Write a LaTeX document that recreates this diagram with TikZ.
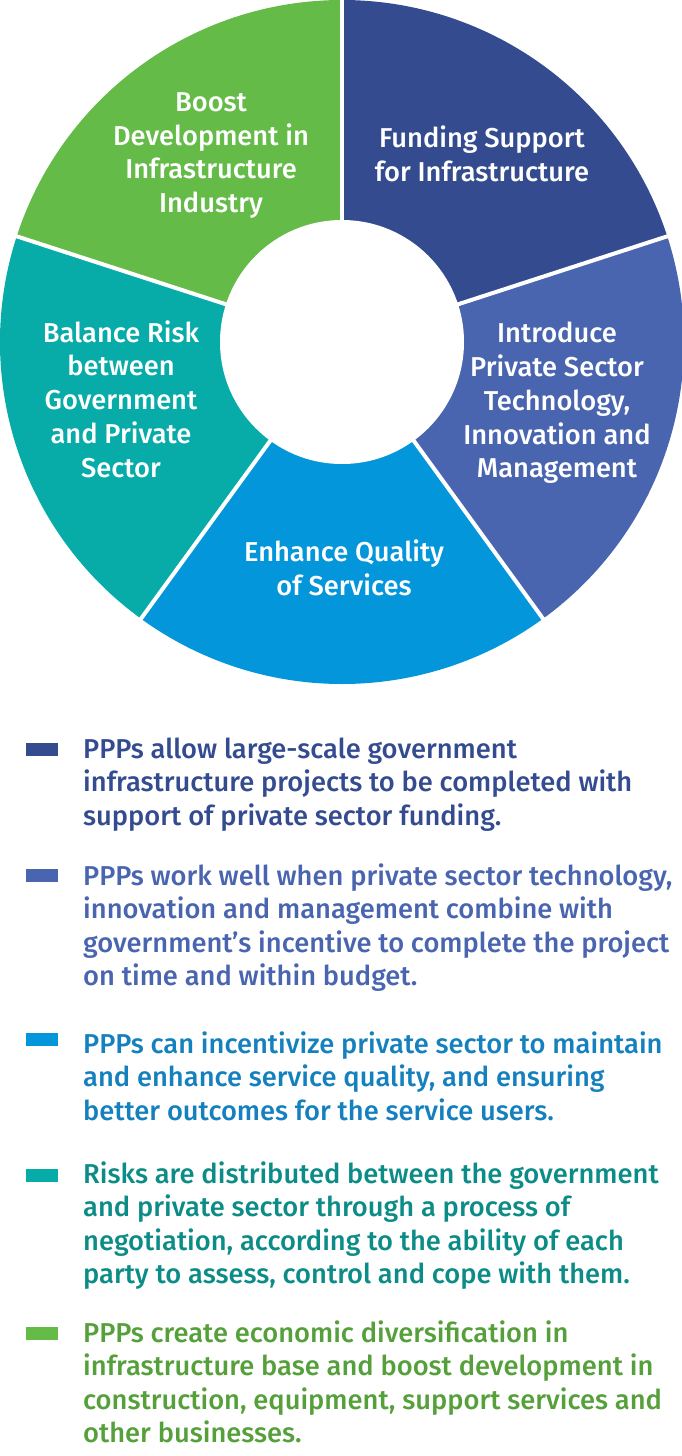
\documentclass[tikz,border=0pt]{standalone}
\usepackage{fontspec}
\setmainfont{Fira Sans Medium}
\usepackage{xcolor}
\definecolor{fund}{RGB}{52, 76, 143}
\definecolor{tech}{RGB}{74, 101, 175}
\definecolor{serv}{RGB}{4, 150, 219}
\definecolor{risk}{RGB}{7, 171, 168}
\definecolor{boost}{RGB}{100, 187, 72}
\definecolor{servtxt}{RGB}{20, 128, 190}
\definecolor{risktxt}{RGB}{12, 140, 134}
\definecolor{boosttxt}{RGB}{85, 160, 58}

\begin{document}
\begin{tikzpicture}[x=1pt, y=1pt,
    seglabel/.style={text=white, align=center, inner sep=0pt,
      font=\fontsize{27.3}{33.8}\selectfont},
    legbox/.style={minimum width=32pt, minimum height=13pt, inner sep=0pt},
    legtext/.style={align=left, anchor=base west, inner sep=0pt,
      font=\fontsize{27.3}{33.5}\selectfont}]
      \useasboundingbox (0, 0) rectangle (682, -1456);
      \coordinate (c) at (342, -342);
      % ring segments
      \fill[fund] (c) -- ++(90:342) arc[start angle=90, end angle=18, radius=342pt] -- cycle;
      \fill[tech] (c) -- ++(18:342) arc[start angle=18, end angle=-54, radius=342pt] -- cycle;
      \fill[serv] (c) -- ++(-54:342) arc[start angle=-54, end angle=-126, radius=342pt] -- cycle;
      \fill[risk] (c) -- ++(-126:342) arc[start angle=-126, end angle=-198, radius=342pt] -- cycle;
      \fill[boost] (c) -- ++(162:342) arc[start angle=162, end angle=90, radius=342pt] -- cycle;
      \foreach \a in {90, 18, -54, -126, 162}
        \draw[white, line width=4pt] (c) -- ++(\a:346);
      \fill[white] (c) circle[radius=122pt];
      % segment labels
      \node[seglabel] (funding) at (482, -154) {Funding Support\\for Infrastructure};
      \node[seglabel] (introduce) at (557, -403) {Introduce\\Private Sector\\Technology,\\Innovation and\\Management};
      \node[seglabel] (enhance) at (344, -567.5) {Enhance Quality\\of Services};
      \node[seglabel] (balance) at (121, -399) {Balance Risk\\between\\Government\\and Private\\Sector};
      \node[seglabel] (develop) at (211, -155.5) {Boost\\Development in\\Infrastructure\\Industry};
      % legend (base anchor sits on the last line)
      \node[legbox, fill=fund] (keyfund) at (42, -749.5) {};
      \node[legtext, text=fund] (notefund) at (83, -825) {PPPs allow large-scale government\\infrastructure projects to be completed with\\support of private sector funding.};
      \node[legbox, fill=tech] (keytech) at (42, -875) {};
      \node[legtext, text=tech] (notetech) at (83, -985.5) {PPPs work well when private sector technology,\\innovation and management combine with\\government’s incentive to complete the project\\on time and within budget.};
      \node[legbox, fill=serv] (keyserv) at (42, -1039) {};
      \node[legtext, text=servtxt] (noteserv) at (83, -1120) {PPPs can incentivize private sector to maintain\\and enhance service quality, and ensuring\\better outcomes for the service users.};
      \node[legbox, fill=risk] (keyrisk) at (42, -1175.5) {};
      \node[legtext, text=risktxt] (noterisk) at (83, -1283.5) {Risks are distributed between the government\\and private sector through a process of\\negotiation, according to the ability of each\\party to assess, control and cope with them.};
      \node[legbox, fill=boost] (keyboost) at (42, -1333) {};
      \node[legtext, text=boosttxt] (noteboost) at (83, -1442.5) {PPPs create economic diversification in\\infrastructure base and boost development in\\construction, equipment, support services and\\other businesses.};
    \end{tikzpicture}
\end{document}
